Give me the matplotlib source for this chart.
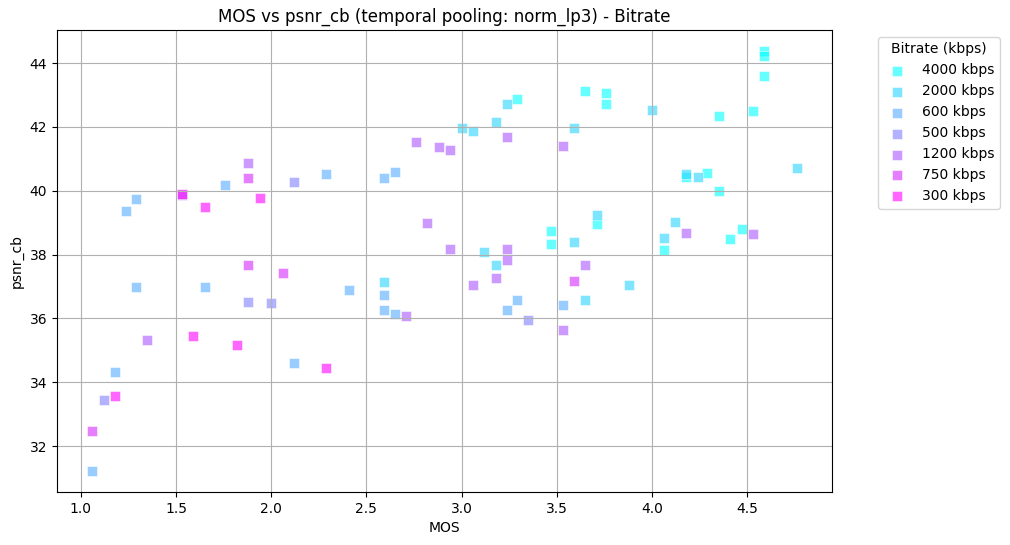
import numpy as np
import matplotlib
matplotlib.use("Agg")
import matplotlib.pyplot as plt

# bitrate groups in the order they show up in the legend
labels = ["4000 kbps", "2000 kbps", "600 kbps", "500 kbps", "1200 kbps", "750 kbps", "300 kbps"]

mos_4000 = [3.29, 3.47, 3.47, 4.59, 4.59, 4.59, 3.65, 3.76, 3.76, 4.35, 4.53, 4.18, 4.29, 4.35, 3.71, 4.06, 4.41, 4.47]
psnr_4000 = [42.88, 38.75, 38.34, 44.38, 44.22, 43.59, 43.13, 43.06, 42.72, 42.34, 42.50, 40.44, 40.56, 40.00, 38.97, 38.16, 38.50, 38.81]

mos_2000 = [3.00, 3.06, 3.18, 3.24, 3.59, 3.12, 3.18, 3.59, 2.59, 4.00, 4.76, 4.18, 4.24, 3.71, 4.12, 4.06, 3.88, 3.65]
psnr_2000 = [41.97, 41.88, 42.16, 42.72, 41.97, 38.09, 37.69, 38.41, 37.13, 42.53, 40.72, 40.52, 40.44, 39.25, 39.03, 38.53, 37.06, 36.59]

mos_600 = [1.29, 1.24, 1.76, 1.29, 1.65, 2.12, 1.18, 1.06, 2.29, 2.59, 2.65, 2.41, 2.59, 2.59, 2.65, 3.29, 3.24, 3.53]
psnr_600 = [39.75, 39.37, 40.19, 37.00, 37.00, 34.62, 34.31, 31.22, 40.53, 40.41, 40.59, 36.88, 36.72, 36.25, 36.13, 36.59, 36.28, 36.41]

mos_500 = [2.12, 1.88, 2.00, 1.12, 3.35]
psnr_500 = [40.28, 36.50, 36.47, 33.44, 35.94]

mos_1200 = [1.53, 1.88, 1.35, 2.76, 2.88, 2.94, 3.24, 3.53, 2.82, 2.94, 3.24, 3.24, 3.18, 3.06, 2.71, 3.53, 4.18, 4.53, 3.65]
psnr_1200 = [39.88, 40.88, 35.31, 41.53, 41.38, 41.28, 41.69, 41.41, 39.00, 38.19, 38.19, 37.84, 37.28, 37.06, 36.09, 35.63, 38.69, 38.66, 37.69]

mos_750 = [1.88, 1.88, 2.06, 1.06, 3.59]
psnr_750 = [40.41, 37.69, 37.41, 32.47, 37.16]

mos_300 = [1.53, 1.65, 1.94, 1.59, 1.82, 1.18, 2.29]
psnr_300 = [39.90, 39.50, 39.78, 35.44, 35.16, 33.56, 34.44]

mos_all = [mos_4000, mos_2000, mos_600, mos_500, mos_1200, mos_750, mos_300]
psnr_all = [psnr_4000, psnr_2000, psnr_600, psnr_500, psnr_1200, psnr_750, psnr_300]

colors = plt.cm.cool(np.linspace(0, 1, len(labels)))

fig = plt.figure(figsize=(10.1, 5.45), dpi=100)
ax = fig.add_axes([0.0564, 0.0972, 0.7674, 0.8478])

for i in range(len(labels)):
    ax.scatter(mos_all[i], psnr_all[i], color=colors[i], marker='s', s=48,
               alpha=0.6, edgecolors='w', linewidths=0.6, label=labels[i])

ax.set_title("MOS vs psnr_cb (temporal pooling: norm_lp3) - Bitrate")
ax.set_xlabel("MOS")
ax.set_ylabel("psnr_cb")
ax.grid(True)
ax.legend(title="Bitrate (kbps)", bbox_to_anchor=(1.05, 1), loc='upper left')

plt.savefig("out.png", dpi=100)
